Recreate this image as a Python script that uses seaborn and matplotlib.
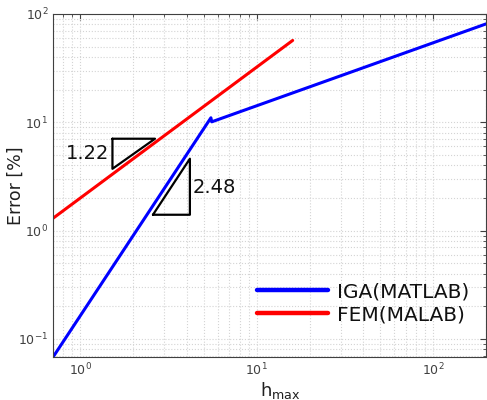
import numpy as np
import pandas as pd
import matplotlib
matplotlib.use("Agg")
import matplotlib.pyplot as plt
import seaborn as sns

# data
iga_h = [0.70, 5.5, 5.56, 200.0]
iga_err = [0.068, 11.0, 10.1, 81.0]
fem_h = [0.70, 16.0]
fem_err = [1.30, 57.0]

# slope triangles (annotation)
tri1_x = [1.52, 2.65, 1.52, 1.52]
tri1_y = [7.05, 7.05, 3.72, 7.05]
tri2_x = [2.58, 4.18, 4.18, 2.58]
tri2_y = [1.40, 4.61, 1.40, 1.40]
slope_labels = ["1.22", "2.48"]

sns.set_style("white")
plt.rcParams['font.family'] = ['DejaVu Sans']

df = pd.concat([
    pd.DataFrame({"h": iga_h, "err": iga_err, "method": "IGA(MATLAB)"}),
    pd.DataFrame({"h": fem_h, "err": fem_err, "method": "FEM(MALAB)"}),
])

fig = plt.figure(figsize=(4.87, 4.0), dpi=100)
ax = fig.add_axes([0.109, 0.1075, 0.889, 0.8575])

sns.lineplot(data=df, x="h", y="err", hue="method", sort=False,
             palette={"IGA(MATLAB)": "#0000ff", "FEM(MALAB)": "#ff0000"},
             linewidth=2.2, ax=ax, estimator=None)

ax.plot(tri1_x, tri1_y, color="black", lw=1.6)
ax.plot(tri2_x, tri2_y, color="black", lw=1.6)

ax.set_xscale("log")
ax.set_yscale("log")
ax.set_xlim(0.7, 200)
ax.set_ylim(0.068, 100)

ax.text(1.45, 5.1, slope_labels[0], fontsize=14, ha="right", va="center",
        color="#111111")
ax.text(4.35, 2.5, slope_labels[1], fontsize=14, ha="left", va="center",
        color="#111111")

ax.grid(True, which="both", linestyle=":", color="#d4d4d4", linewidth=0.8)
ax.tick_params(which="both", direction="in", top=True, right=True,
               colors="#404040", labelsize=9)
ax.tick_params(which="major", length=4)
ax.tick_params(which="minor", length=2)
for s in ax.spines.values():
    s.set_color("#404040")
    s.set_linewidth(0.8)

ax.set_xlabel(r"h$_{\mathrm{max}}$", fontsize=13, color="#202020")
ax.xaxis.set_label_coords(0.524, -0.068)
ax.set_ylabel("Error [%]", fontsize=12.5, color="#202020")
ax.yaxis.set_label_coords(-0.066, 0.5)

leg = ax.legend(loc="lower right", bbox_to_anchor=(1.003, 0.042), frameon=False,
                fontsize=14.5, handlelength=3.5, handletextpad=0.45,
                labelspacing=0.2)
for line in leg.get_lines():
    line.set_linewidth(3.2)
for t in leg.get_texts():
    t.set_color("#111111")

fig.savefig("out.png", dpi=100)
